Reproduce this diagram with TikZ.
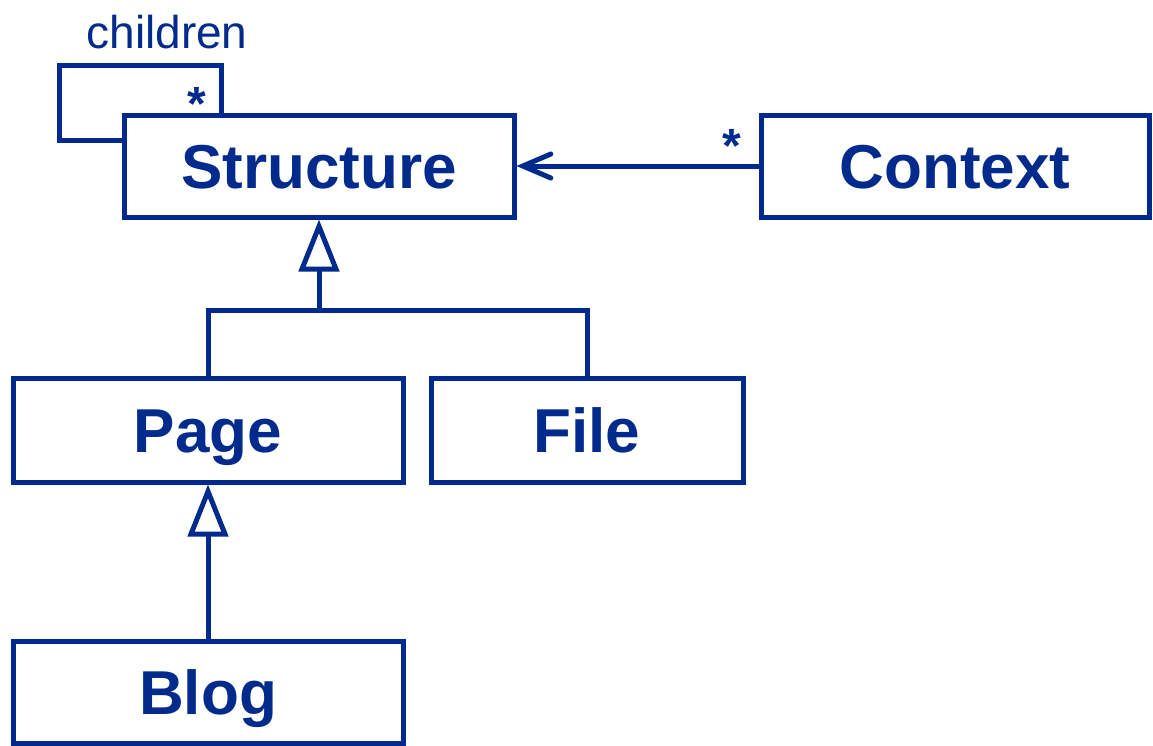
\documentclass[tikz,border=0pt]{standalone}
\usepackage{fontspec}
\setmainfont{Liberation Sans}
\usetikzlibrary{arrows.meta}
\definecolor{umlblue}{RGB}{0,42,140}
\begin{document}
\begin{tikzpicture}[x=1pt,y=-1pt,
  umlline/.style={draw=umlblue,line width=5pt},
  classbox/.style={draw=umlblue,line width=5pt,rectangle,inner sep=0pt,
    minimum height=102pt,text=umlblue,text height=44pt,text depth=0pt,
    font=\fontsize{62}{70}\selectfont\bfseries},
  gen/.style={umlline,-{Triangle[open,length=52pt,width=40pt]}},
  assoc/.style={umlline,-{Straight Barb[length=28pt,width=24pt,line cap=round]}},
  mult/.style={text=umlblue,font=\fontsize{48}{52}\selectfont\bfseries,inner sep=0pt},
  rolelabel/.style={text=umlblue,font=\fontsize{46}{52}\selectfont,inner sep=0pt}]
\useasboundingbox (0,0) rectangle (1153,745);

% classes
\node[classbox,minimum width=390pt] (structure) at (319,166) {Structure};
\node[classbox,minimum width=388pt] (context) at (955,166) {Context};
\node[classbox,minimum width=390pt,minimum height=104pt] (page) at (208,430) {Page};
\node[classbox,minimum width=312pt,minimum height=104pt] (file) at (587,430) {File};
\node[classbox,minimum width=390pt] (blog) at (208,692) {Blog};

% recursive association
\draw[umlline] (221,0 |- structure.north) -- (221,65) -- (59,65) -- (59,140) -- (structure.west |- 0,140);
\node[mult] (selfmult) at (197,104) {*};
\node[rolelabel] (children) at (167,32) {children};

% association from context
\draw[assoc] (context.west) -- (structure.east);
\node[mult] (ctxmult) at (732,146) {*};

% generalisations
\coordinate (fork) at (319,310);
\draw[gen] (fork) -- (structure.south);
\draw[umlline] (page.north) |- (fork) -| (file.north);
\draw[gen] (blog.north) -- (page.south);
\end{tikzpicture}
\end{document}
